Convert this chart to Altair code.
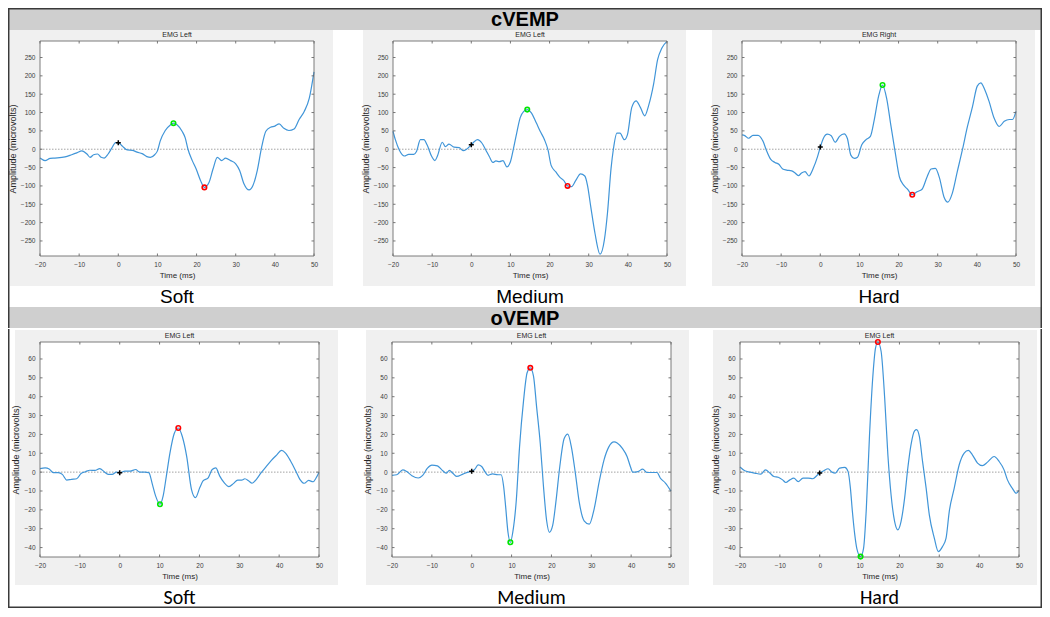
import altair as alt
import pandas as pd

# ---------------- data ----------------
X_TICKS = [-20, -10, 0, 10, 20, 30, 40, 50]
C_YTICKS = [-250, -200, -150, -100, -50, 0, 50, 100, 150, 200, 250]
O_YTICKS = [-40, -30, -20, -10, 0, 10, 20, 30, 40, 50, 60]
C_DOMAIN = [-291, 295]
O_DOMAIN = [-45, 69]

# cVEMP soft
c_soft_t = [-20, -18.7, -17.4, -16.2, -13.6, -11.9, -10.6, -9.3, -8.0, -7.2, -6.3, -5.3, -4.4, -3.6, -2.6,
            -1.5, -0.7, 0, 1.0, 2.3, 3.6, 4.8, 6.1, 7.3, 8.2, 9.3, 10.0, 10.7, 12.0, 13.3, 14.1, 15.0, 16.3,
            17.1, 17.8, 18.9, 19.9, 21.0, 22.0, 23.2, 24.2, 25.3, 26.4, 27.4, 28.7, 30.0, 31.0, 32.1, 33.4,
            34.4, 35.5, 36.6, 37.7, 38.9, 40.0, 41.1, 42.3, 43.6, 44.9, 46.2, 47.5, 48.8, 50.0]
c_soft_a = [-24, -31, -25, -24, -21, -15, -10, -4.5, -13, -22, -15, -13, -22, -24, -13,
            6, 18, 18, 9, -2, -3, -8, -12, -20, -22, -15, -4.5, 22, 51, 66, 71, 67, 49,
            31, 0, -31, -54, -85, -104, -90, -54, -22, -31, -24, -31, -40, -58, -94, -111,
            -99, -58, 4.5, 49, 60, 63, 69, 57, 51, 55, 81, 103, 139, 211]
c_soft_stim = [0, 18]
c_soft_green = [14.1, 71]
c_soft_red = [22.0, -104]

# cVEMP medium
c_med_t = [-20, -19.4, -18.4, -17.1, -16, -14.7, -14, -13, -12.1, -11.3, -10.1, -9.3, -8.7, -7.4, -6.6,
           -5.7, -4.4, -3.1, -2.1, -1.2, 0, 0.8, 1.6, 2.7, 3.7, 4.6, 5.5, 6.3, 7.2, 8.1, 9.1, 10, 10.8,
           11.6, 12.5, 13.4, 14.3, 15.3, 16.6, 17.6, 18.7, 19.6, 20.4, 21.6, 22.6, 23.6, 24.6, 25.6, 26.7,
           27.9, 29.0, 29.7, 30.5, 31.6, 32.9, 34.0, 34.8, 35.7, 36.3, 37.2, 38.0, 39.1, 39.9, 41.0, 42.1,
           43.2, 44.3, 45.3, 46.6, 47.6, 48.7, 50]
c_med_a = [49, 26, -2, -18.5, -14, -14, -6, 26, 26, 12, -20, -31, -20, 19, 7,
           14, 5.6, 4.6, -4, 0, 12, 21, 26, 17, -2, -20, -36, -32, -34, -31, -48, -34, 3,
           44, 86, 103, 108, 100, 72, 49, 26, -2, -44, -62, -76, -85, -100, -102, -85,
           -67, -73, -99, -155, -229, -286, -247, -173, -53, 0, 44, 44, 26, 40, 114, 132,
           114, 91, 119, 179, 244, 276, 294]
c_med_stim = [0, 12]
c_med_green = [14.3, 108]
c_med_red = [24.6, -100]

# cVEMP hard
c_hard_t = [-20, -19.3, -18.3, -17.2, -15.9, -14.6, -13.8, -12.7, -11.6, -10.6, -9.6, -8.6, -7.3, -6.5,
            -5.6, -4.8, -3.9, -2.9, -1.8, -0.7, 0, 0.8, 1.8, 2.8, 3.8, 4.9, 6.1, 6.9, 7.8, 8.7, 9.5, 10.6,
            11.7, 12.8, 13.8, 14.9, 15.9, 17.0, 18.0, 19.1, 20.2, 21.3, 22.3, 23.5, 24.7, 26.0, 27.3, 28.3,
            29.4, 30.5, 31.6, 32.6, 33.7, 35.0, 36.3, 37.6, 38.9, 40.1, 41.0, 42.0, 43.1, 44.4, 45.7, 47.0,
            48.3, 49.1, 50]
c_hard_a = [39, 37, 30, 38, 38, 21, -2, -27, -36, -41, -54, -57, -59, -64,
            -72, -65, -61, -73, -52, -20, 5.5, 30, 41, 37, 19, 35, 42, 30, -16, -25, -22, 12,
            26, 35, 81, 145, 175, 136, 67, -6, -75, -98, -109, -124, -116, -109, -75, -54,
            -52, -80, -130, -144, -121, -61, -2, 62, 117, 172, 181, 163, 131, 85, 62, 76,
            81, 81, 103]
c_hard_stim = [0, 6]
c_hard_green = [15.9, 175]
c_hard_red = [23.5, -124]

# oVEMP soft
o_soft_t = [-20, -18.7, -17.7, -16.7, -15.4, -14.4, -13.3, -12.1, -10.8, -9.7, -8.6, -7.5, -6.2, -5.0,
            -3.9, -2.9, -1.9, -0.8, 0, 1.3, 2.6, 4.0, 5.0, 6.3, 7.3, 8.2, 9.0, 10.1, 10.9, 11.7, 12.6,
            13.7, 14.7, 15.7, 16.8, 18.0, 19.0, 20.1, 20.9, 22.2, 23.2, 24.1, 25.1, 26.2, 27.4, 28.5, 29.6,
            30.6, 31.4, 32.4, 33.2, 34.3, 35.5, 36.8, 38.0, 39.3, 40.6, 41.6, 42.9, 44.2, 45.2, 46.3, 47.4,
            48.5, 49.3, 50]
o_soft_a = [1.9, 2.3, 1.7, -0.3, -0.3, -1.2, -4.2, -3.8, -3.5, -0.7, 0.2, 1.0, 0.9, 1.9,
            0.2, -1.2, -1.2, 0, -0.3, 0.5, 0.5, 1.4, 0, 0, -0.3, -6.5, -12.6, -17, -12.6, -2.1, 10.1,
            20.6, 23.4, 18.9, 8.4, -9.1, -13.5, -8.2, -4.7, -3.0, 1.4, 2.3, -2.1, -5.6, -7.7, -6.1, -4.2,
            -4.2, -3.5, -4.7, -5.9, -3.8, -0.3, 3.1, 6.1, 8.9, 11.5, 10.1, 5.8, 0.5, -3.8, -5.9, -4.4,
            -5.1, -3.0, 0]
o_soft_stim = [0, -0.3]
o_soft_green = [10.1, -17]
o_soft_red = [14.7, 23.4]

# oVEMP medium
o_med_t = [-20, -18.8, -17.3, -16.3, -15.0, -13.4, -12.3, -11.1, -10.0, -8.6, -7.5, -6.4, -5.6, -4.8,
           -3.8, -2.1, -0.9, 0, 0.8, 1.6, 2.5, 3.3, 4.1, 5.2, 6.6, 7.4, 8.0, 8.5, 9.1, 9.7, 10.3, 11.2,
           12.0, 13.0, 13.9, 14.7, 15.5, 16.3, 17.2, 18.0, 18.8, 19.5, 20.3, 21.1, 22.1, 23.2, 24.1, 25.0,
           26.0, 27.0, 28.2, 29.5, 30.7, 32.0, 33.2, 34.4, 35.7, 36.5, 37.8, 39.0, 39.8, 40.4, 41.7, 42.9,
           44.0, 45.4, 46.5, 47.3, 48.6, 50]
o_med_a = [-1.7, -1.4, 1.2, 0.3, -1.9, -3.1, -1.7, 2.1, 3.7, 3.3, 1.2, -0.5, 0.9, -0.5,
           -2.3, -0.9, 0, 0.5, 1.6, 3.8, 3.0, 0.3, -1.7, -0.9, -1.4, -1.4, -7.5, -18, -31.9, -37.2, -31.9,
           -14.5, 13.4, 37.8, 52.7, 55.3, 50.9, 34.2, 15.2, -7.5, -25.8, -31.9, -28.4, -16.2, 3.0, 17.8,
           20.1, 13.4, -0.5, -16.2, -25.8, -27.6, -19.7, -4.9, 6.5, 13.4, 16.0, 15.5, 12.6, 8.2, 3.0, 0,
           0.3, 1.6, -0.2, -0.2, -0.2, -3.1, -5.8, -10.1]
o_med_stim = [0, 0.5]
o_med_green = [9.7, -37.2]
o_med_red = [14.7, 55.3]

# oVEMP hard
o_hard_t = [-20, -18.8, -17.5, -16.3, -14.8, -13.6, -12.5, -11.5, -10.4, -9.3, -8.5, -7.5, -6.5, -5.4,
            -4.2, -2.9, -1.7, -0.7, 0, 1.0, 2.1, 3.1, 3.9, 5.0, 6.3, 7.1, 7.7, 8.2, 8.8, 9.3, 10.25, 11.0,
            11.7, 12.5, 13.3, 14.0, 14.6, 15.4, 16.3, 17.1, 17.9, 18.8, 19.6, 20.4, 21.3, 22.1, 22.9, 23.8,
            24.3, 25.0, 25.8, 26.7, 27.5, 28.75, 29.75, 30.8, 31.7, 32.5, 33.75, 35.0, 36.25, 37.3, 38.3,
            39.6, 40.8, 42.1, 43.75, 45.0, 46.25, 47.1, 48.3, 49.3, 50]
o_hard_a = [2.7, 0.7, 0, -0.5, -1.1, 1.2, -0.5, -2.3, -2.7, -4.1, -5.5, -4.1, -3.2, -5.0,
            -3.2, -3.2, -3.5, -1.8, -0.5, 0.7, 1.8, 0, -0.5, 2.1, 2.5, 0.4, -8.5, -20.9, -33.3, -40.4, -44.8,
            -40.4, -19.1, 19.8, 49.9, 65.8, 69, 64.1, 39.3, 9.2, -12, -26.2, -30.6, -26.2, -13.8, 2.1, 14.5,
            21.9, 22.5, 18.9, 5.7, -8.5, -22.7, -35.0, -42.1, -39.5, -35.0, -20.9, -8.5, 3.9, 10.1, 11.5, 9.2,
            4.8, 3.4, 5.3, 8.3, 5.7, 1.2, -4.1, -8.5, -11.2, -9.7]
o_hard_stim = [0, -0.5]
o_hard_green = [10.25, -44.8]
o_hard_red = [14.6, 69]

# ---------------- styling ----------------
FONT = "Liberation Sans"
CAP_FONT_TOP = "Liberation Sans"
CAP_FONT_BOTTOM = "Carlito, Lato, sans-serif"
LINE_COLOR = "#4095d8"
PANEL_BG = "#f0f0f0"
BAND_BG = "#cfcfcf"
BORDER = "#3a3a3a"
ORIGIN = 32          # left overhang shared by every row of the vertical stack
TOTAL_W = 1034


def one():
    return pd.DataFrame({"k": [0]})


def vrect(x1, x2, y1, y2, **kw):
    return alt.Chart(one()).mark_rect(**kw).encode(
        x=alt.value(x1), x2=alt.value(x2), y=alt.value(y1), y2=alt.value(y2))


def vline(x1, y1, y2):
    # frame line as a filled strip (exact layout bounds): x1 .. x1+1.5
    return vrect(x1, x1 + 1.5, y1, y2, fill=BORDER)


def hline(x1, x2, y1):
    return vrect(x1, x2, y1, y1 + 1.5, fill=BORDER)


def panel(t, a, stim, green, red, domain, yticks, top_title, caption, g):
    W, H = g["w"], g["h"]
    xs = alt.Scale(domain=[-20, 50], nice=False, zero=False)
    ys = alt.Scale(domain=domain, nice=False, zero=False)
    x_axis = alt.Axis(values=X_TICKS, title="Time (ms)", ticks=False, tickSize=0, domain=False,
                      grid=False, labelFont=FONT, labelFontSize=6.5, labelColor="#3c3c3c",
                      labelPadding=5, labelFlush=False, labelOverlap=False,
                      titleFont=FONT, titleFontSize=8, titleFontWeight="normal",
                      titleColor="#262626", titlePadding=4, zindex=1)
    y_axis = alt.Axis(values=yticks, title="Amplitude (microvolts)", ticks=False, tickSize=0,
                      domain=False, grid=False, labelFont=FONT, labelFontSize=6.5,
                      labelColor="#3c3c3c", labelPadding=5, labelOverlap=False,
                      titleFont=FONT, titleFontSize=9, titleFontWeight="normal",
                      titleColor="#262626", titlePadding=3, zindex=1)
    X = alt.X("t:Q", scale=xs, axis=x_axis)
    Y = alt.Y("a:Q", scale=ys, axis=y_axis)

    layers = [
        vrect(g["cl"], g["cr"], g["ct"], g["cb"], fill="white"),
        vrect(g["gl"], g["gr"], g["gt"], g["gb"], fill=PANEL_BG),
        vrect(0, W, 0, H, fill="white"),
    ]
    zero = alt.Chart(pd.DataFrame({"a": [0]})).mark_rule(
        color="#8c8c8c", strokeDash=[1.5, 1.5], strokeWidth=0.8).encode(
        y=Y, x=alt.value(0), x2=alt.value(W))
    line = alt.Chart(pd.DataFrame({"t": t, "a": a})).mark_line(
        interpolate="monotone", color=LINE_COLOR, strokeWidth=1.2).encode(x=X, y=Y)
    xt = pd.DataFrame({"t": X_TICKS})
    yt = pd.DataFrame({"a": yticks})
    tick_kw = dict(color="#555555", strokeWidth=0.8)
    ticks = [
        alt.Chart(xt).mark_rule(**tick_kw).encode(x=X, y=alt.value(H), y2=alt.value(H - 2.5)),
        alt.Chart(xt).mark_rule(**tick_kw).encode(x=X, y=alt.value(0), y2=alt.value(2.5)),
        alt.Chart(yt).mark_rule(**tick_kw).encode(y=Y, x=alt.value(0), x2=alt.value(2.5)),
        alt.Chart(yt).mark_rule(**tick_kw).encode(y=Y, x=alt.value(W), x2=alt.value(W - 2.5)),
    ]
    box = vrect(0, W, 0, H, fill="white", fillOpacity=0, stroke="#6e6e6e", strokeWidth=0.9)
    gpt = alt.Chart(pd.DataFrame({"t": [green[0]], "a": [green[1]]})).mark_point(
        shape="circle", filled=False, color="#00e600", strokeWidth=1.6, size=20, opacity=1).encode(x=X, y=Y)
    rpt = alt.Chart(pd.DataFrame({"t": [red[0]], "a": [red[1]]})).mark_point(
        shape="circle", filled=False, color="#ff0000", strokeWidth=1.6, size=20, opacity=1).encode(x=X, y=Y)
    spt = alt.Chart(pd.DataFrame({"t": [stim[0]], "a": [stim[1]]})).mark_point(
        shape="M-1,0L1,0M0,-1L0,1", filled=False, color="black", strokeWidth=1.5, size=25,
        opacity=1).encode(x=X, y=Y)
    ttl = alt.Chart(one()).mark_text(text=top_title, font=FONT, fontSize=7, color="#262626",
                                     align="center", baseline="middle").encode(
        x=alt.value(W / 2), y=alt.value(-6))
    cap = alt.Chart(one()).mark_text(text=caption, font=g["capfont"], fontSize=g["capsize"],
                                     color="black", align="center", baseline="middle").encode(
        x=alt.value(W / 2), y=alt.value(g["cap"]))
    layers += [zero, line] + ticks + [box, gpt, rpt, spt, ttl, cap]
    if g.get("left"):
        layers.append(vline(g["cl"], g["ct"], g["cb"]))
    if g.get("right"):
        layers.append(vline(g["cr"] - 1.5, g["ct"], g["cb"]))
    if g.get("bottom"):
        layers.append(hline(g["cl"], g["cr"], g["cb"] - 1.5))
    return alt.layer(*layers).properties(width=W, height=H)


def header(text, h, top):
    x1, x2 = -ORIGIN, TOTAL_W - ORIGIN
    layers = [
        vrect(x1, x2, 0, h, fill=BAND_BG),
        alt.Chart(one()).mark_text(text=text, font=FONT, fontSize=20, fontWeight="bold",
                                   color="black", align="center", baseline="middle").encode(
            x=alt.value((x1 + x2) / 2), y=alt.value(h / 2 + 1)),
        vline(x1, 0, h),
        vline(x2 - 1.5, 0, h),
    ]
    if top:
        layers.append(hline(x1, x2, 0))
    return alt.layer(*layers).properties(width=x2, height=h)


# geometry for row 1 (cVEMP) and row 2 (oVEMP), relative to each plot area
R1 = dict(w=274, h=215, ct=-11, gt=-11, gb=245, cb=266, cap=256, capfont=CAP_FONT_TOP, capsize=19)
R2 = dict(w=279, h=215, ct=-13, gt=-12, gb=243, cb=266, cap=256, capfont=CAP_FONT_BOTTOM, capsize=20)
g1 = dict(R1, cl=-ORIGIN, cr=308, gl=-30, gr=293, left=True)
g2 = dict(R1, cl=-45, cr=306, gl=-30, gr=293)
g3 = dict(R1, cl=-43, cr=300, gl=-30, gr=293, right=True)
g4 = dict(R2, cl=-ORIGIN, cr=312, gl=-25, gr=298, left=True, bottom=True)
g5 = dict(R2, cl=-40, cr=309, gl=-26, gr=297, bottom=True)
g6 = dict(R2, cl=-39, cr=302, gl=-27, gr=297, right=True, bottom=True)

row1 = alt.hconcat(
    panel(c_soft_t, c_soft_a, c_soft_stim, c_soft_green, c_soft_red, C_DOMAIN, C_YTICKS, "EMG Left", "Soft", g1),
    panel(c_med_t, c_med_a, c_med_stim, c_med_green, c_med_red, C_DOMAIN, C_YTICKS, "EMG Left", "Medium", g2),
    panel(c_hard_t, c_hard_a, c_hard_stim, c_hard_green, c_hard_red, C_DOMAIN, C_YTICKS, "EMG Right", "Hard", g3),
    spacing=0)
row2 = alt.hconcat(
    panel(o_soft_t, o_soft_a, o_soft_stim, o_soft_green, o_soft_red, O_DOMAIN, O_YTICKS, "EMG Left", "Soft", g4),
    panel(o_med_t, o_med_a, o_med_stim, o_med_green, o_med_red, O_DOMAIN, O_YTICKS, "EMG Left", "Medium", g5),
    panel(o_hard_t, o_hard_a, o_hard_stim, o_hard_green, o_hard_red, O_DOMAIN, O_YTICKS, "EMG Left", "Hard", g6),
    spacing=0)

chart = alt.vconcat(header("cVEMP", 22, True), row1, header("oVEMP", 21, False), row2, spacing=0).properties(
    padding=0, background="white").configure_view(strokeWidth=0)

chart.save("out.html", embed_options={"renderer": "svg", "actions": False})
